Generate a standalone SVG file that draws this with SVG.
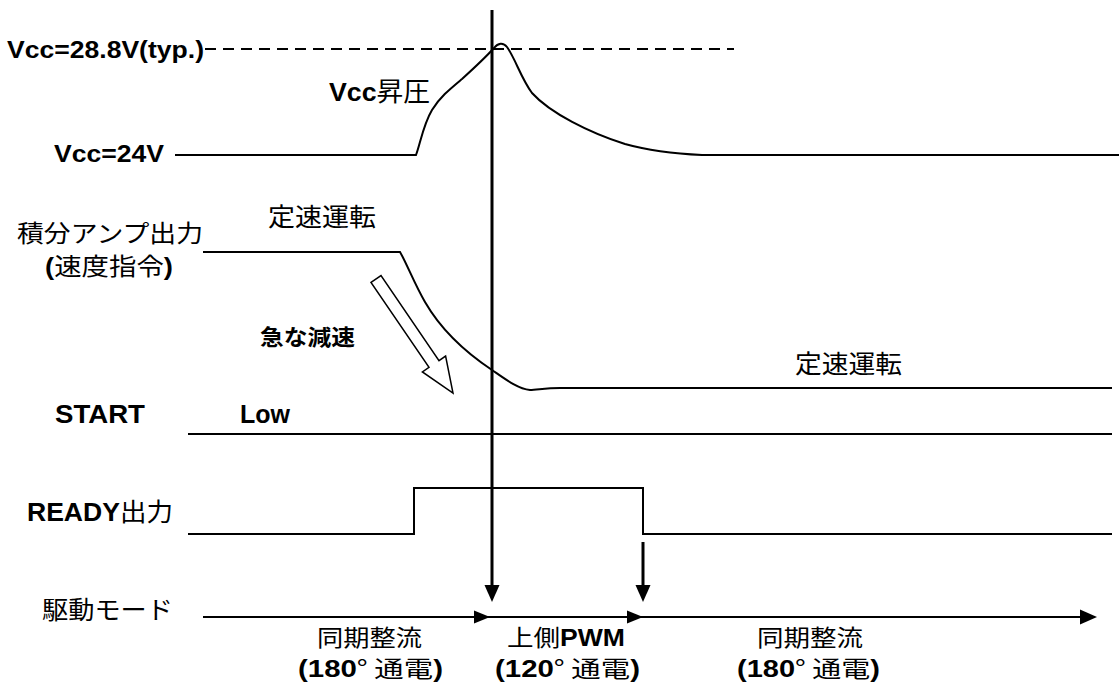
<svg xmlns="http://www.w3.org/2000/svg" width="1119" height="684" viewBox="0 0 1119 684">
<style>
.w{fill:none;stroke:#000;stroke-width:2}
.v{fill:none;stroke:#000;stroke-width:3}
.h{fill:#000}
.lat{font-family:"Liberation Sans",Arial,sans-serif;font-weight:bold}
.jp{font-family:"Noto Sans CJK JP",sans-serif;font-weight:normal}
.jb{font-family:"Noto Sans CJK JP",sans-serif;font-weight:bold}
text{fill:#000}
</style>
<rect width="1119" height="684" fill="#fff"/>
<g id="waveforms">
<path class="w" stroke-dasharray="11 7" d="M205 49 H734"/>
<path class="w" d="M175 155 H416 C420 145,423 125,432 110 C440 97,450 89,462 79 C473 69,485 58,494 48 C498 43,503 42,507 47 C515 58,521 78,532 93 C550 113,590 133,625 144 C650 151,680 154,702 155 H1119"/>
<path class="w" d="M203 252 H400 C406 262,415 285,425 302 C440 328,465 352,492 370 C505 379,518 389,530 390 C537 390,545 388,560 388 H1112"/>
<path class="w" d="M188 434 H1112"/>
<path class="w" d="M188 534 H414 V488 H643 V534 H1112"/>
<polygon fill="#fff" stroke="#000" stroke-width="1.5" points="371,282.4 381,275.6 439,360.6 445.6,356.1 453,393 422.4,371.9 429,367.4"/>
</g>
<g id="connectors">
<path class="v" d="M492 10 V587"/>
<polygon class="h" points="484.5,585 499.5,585 492,602"/>
<path class="v" d="M643 542 V587"/>
<polygon class="h" points="635.5,585 650.5,585 643,602"/>
<path class="w" stroke-width="2.5" d="M203 617 H1082"/>
<polygon class="h" points="474,610.5 474,623.5 490,617"/>
<polygon class="h" points="627,610.5 627,623.5 643,617"/>
<polygon class="h" points="1080,609.5 1080,624.5 1097,617"/>
</g>
<g id="labels">
<text class="lat" x="7" y="58" font-size="24" textLength="197" lengthAdjust="spacingAndGlyphs">Vcc=28.8V(typ.)</text>
<text x="329" y="101" font-size="26" textLength="101" lengthAdjust="spacingAndGlyphs"><tspan class="lat">Vcc</tspan><tspan class="jp">昇圧</tspan></text>
<text class="lat" x="54" y="162" font-size="24" textLength="110" lengthAdjust="spacingAndGlyphs">Vcc=24V</text>
<text class="jp" x="17" y="242" font-size="24" textLength="186" lengthAdjust="spacingAndGlyphs">積分アンプ出力</text>
<text x="45" y="275" font-size="24" textLength="128" lengthAdjust="spacingAndGlyphs"><tspan class="lat">(</tspan><tspan class="jp">速度指令</tspan><tspan class="lat">)</tspan></text>
<text class="jp" x="268" y="226" font-size="25" textLength="108" lengthAdjust="spacingAndGlyphs">定速運転</text>
<text class="jb" x="260" y="345" font-size="22" textLength="95" lengthAdjust="spacingAndGlyphs">急な減速</text>
<text class="jp" x="795" y="373" font-size="25" textLength="107" lengthAdjust="spacingAndGlyphs">定速運転</text>
<text class="lat" x="55" y="423" font-size="25" textLength="90" lengthAdjust="spacingAndGlyphs">START</text>
<text class="lat" x="240" y="423" font-size="25" textLength="50" lengthAdjust="spacingAndGlyphs">Low</text>
<text x="27" y="521" font-size="25" textLength="146" lengthAdjust="spacingAndGlyphs"><tspan class="lat">READY</tspan><tspan class="jp">出力</tspan></text>
<text class="jp" x="42" y="619" font-size="25" textLength="131" lengthAdjust="spacingAndGlyphs">駆動モード</text>
<text class="jp" x="317" y="646" font-size="23" textLength="105" lengthAdjust="spacingAndGlyphs">同期整流</text>
<text x="298" y="677" font-size="23" textLength="145" lengthAdjust="spacingAndGlyphs"><tspan class="lat">(180</tspan><tspan class="jp">° 通電</tspan><tspan class="lat">)</tspan></text>
<text x="507" y="646" font-size="23" textLength="118" lengthAdjust="spacingAndGlyphs"><tspan class="jp">上側</tspan><tspan class="lat">PWM</tspan></text>
<text x="495" y="677" font-size="23" textLength="145" lengthAdjust="spacingAndGlyphs"><tspan class="lat">(120</tspan><tspan class="jp">° 通電</tspan><tspan class="lat">)</tspan></text>
<text class="jp" x="757" y="646" font-size="23" textLength="106" lengthAdjust="spacingAndGlyphs">同期整流</text>
<text x="737" y="677" font-size="23" textLength="143" lengthAdjust="spacingAndGlyphs"><tspan class="lat">(180</tspan><tspan class="jp">° 通電</tspan><tspan class="lat">)</tspan></text>
</g>
</svg>
